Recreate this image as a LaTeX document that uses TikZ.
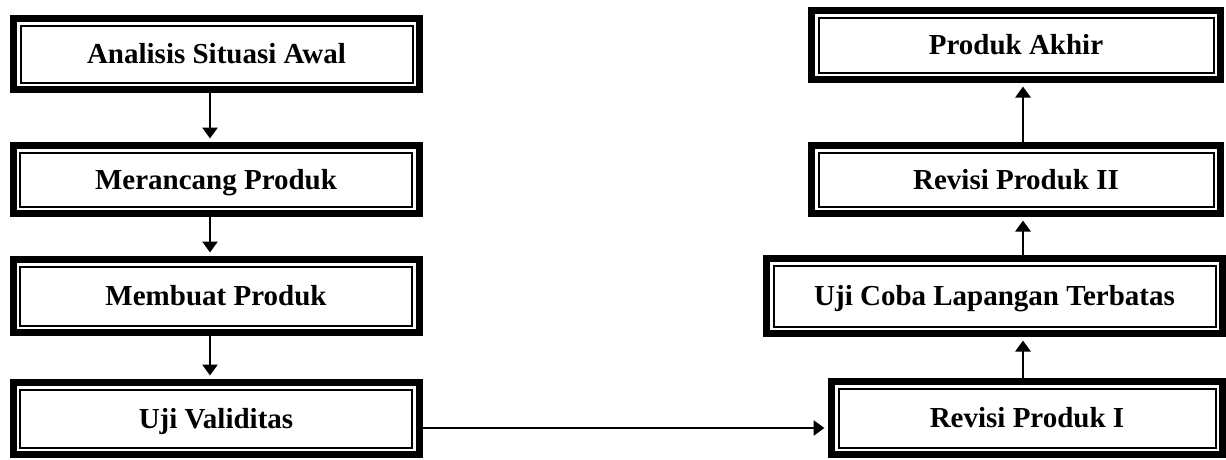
\documentclass[tikz,border=0pt]{standalone}
\usepackage{fontspec}
\setmainfont{Liberation Serif}
\usetikzlibrary{arrows.meta}

\begin{document}
\begin{tikzpicture}[x=1pt,y=1pt,
	rect/.style={shape=rectangle, draw=black, line width=7pt, fill=white,
		minimum width=406pt, minimum height=71pt, inner sep=0pt,
		text height=19pt, text depth=0pt,
		font=\bfseries\fontsize{29}{34}\selectfont,
		path picture={\draw[line width=2pt]
			([shift={(7pt,7pt)}]path picture bounding box.south west) rectangle
			([shift={(-7pt,-7pt)}]path picture bounding box.north east);}},
	arr/.style={line width=2.6pt, -{Triangle[width=15pt,length=11pt]}, shorten >=3.5pt}]
		\useasboundingbox (0,0) rectangle (1226,-459);
		% kiri
		\node (ana) at (216.5,-54) [rect] {Analisis Situasi Awal};
		\node (mer) at (216,-179.5) [rect, minimum height=68pt] {Merancang Produk};
		\node (mem) at (216,-296) [rect, minimum height=73pt] {Membuat Produk};
		\node (val) at (216,-418.5) [rect, minimum height=72pt] {Uji Validitas};
		% kanan
		\node (rev1) at (1027,-418) [rect, minimum width=391pt, minimum height=73pt] {Revisi Produk I};
		\node (uji) at (994.5,-296) [rect, minimum width=456pt, minimum height=75pt] {Uji Coba Lapangan Terbatas};
		\node (rev2) at (1016,-179.5) [rect, minimum width=409pt, minimum height=68pt] {Revisi Produk II};
		\node (akhir) at (1016,-45) [rect, minimum width=409pt, minimum height=69pt] {Produk Akhir};
		\coordinate (lcol) at (210,0);
		\coordinate (rcol) at (1023,0);
		\coordinate (hrow) at (0,-428);
		\draw[arr] (ana.south -| lcol) -- (mer.north -| lcol);
		\draw[arr] (mer.south -| lcol) -- (mem.north -| lcol);
		\draw[arr] (mem.south -| lcol) -- (val.north -| lcol);
		\draw[arr] (val.east |- hrow) -- (rev1.west |- hrow);
		\draw[arr] (rev1.north -| rcol) -- (uji.south -| rcol);
		\draw[arr] (uji.north -| rcol) -- (rev2.south -| rcol);
		\draw[arr] (rev2.north -| rcol) -- (akhir.south -| rcol);
\end{tikzpicture}
\end{document}
